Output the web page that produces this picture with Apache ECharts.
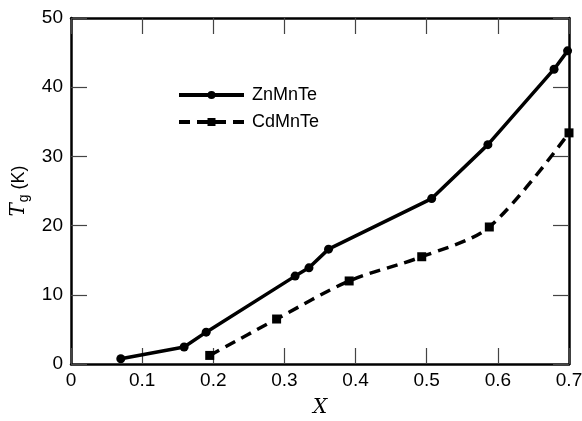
<!DOCTYPE html>
<html><head><meta charset="utf-8">
<script src="https://cdn.jsdelivr.net/npm/echarts@6/dist/echarts.min.js"></script>
<style>html,body{margin:0;padding:0;background:#fff}#c{width:582px;height:421px}</style>
</head><body><div id="c"></div>
<script>
const znX = [0.070, 0.159, 0.190, 0.315, 0.3345, 0.362, 0.507, 0.586, 0.679, 0.698];
const znY = [0.76, 2.45, 4.6, 12.7, 13.9, 16.6, 23.9, 31.7, 42.6, 45.25];
const cdX = [0.195, 0.289, 0.391, 0.493, 0.588, 0.700];
const cdY = [1.24, 6.5, 12.0, 15.5, 19.8, 33.4];
const xTicks = [0, 0.1, 0.2, 0.3, 0.4, 0.5, 0.6, 0.7];
const yTicks = [0, 10, 20, 30, 40, 50];

const font = '"Liberation Sans", Arial, sans-serif';
const chart = echarts.init(document.getElementById('c'));
const axisLine = {show: true, onZero: false, lineStyle: {color: '#000', width: 2.5}};
const tickStyle = {show: true, inside: true, length: 16, lineStyle: {color: '#444', width: 1.2}};
const labelFmt = v => { const r = Math.round(v*10)/10; return r === 0 ? '0' : r.toString(); };
chart.setOption({
  animation: false,
  grid: {left: 71, right: 13, top: 18, bottom: 57, containLabel: false, outerBoundsMode: 'none'},
  legend: {
    left: 172, top: 81, orient: 'vertical', itemWidth: 65, itemHeight: 10, itemGap: 9,
    textStyle: {fontFamily: font, fontSize: 18, color: '#000', padding: [0, 0, 0, 3]},
    lineStyle: {width: 4},
    data: ['ZnMnTe', 'CdMnTe']
  },
  xAxis: [{
    type: 'value', min: 0, max: 0.7, interval: 0.1, position: 'bottom',
    axisLine: axisLine, axisTick: tickStyle, splitLine: {show: false},
    axisLabel: {fontFamily: font, fontSize: 19, color: '#000', margin: 7, formatter: labelFmt},
    name: 'X', nameLocation: 'middle', nameGap: 34,
    nameTextStyle: {fontFamily: '"DejaVu Serif", serif', fontStyle: 'italic', fontSize: 20, color: '#000'}
  }, {
    type: 'value', min: 0, max: 0.7, interval: 0.1, position: 'top',
    axisLine: axisLine, axisTick: tickStyle, splitLine: {show: false}, axisLabel: {show: false}
  }],
  yAxis: [{
    type: 'value', min: 0, max: 50, interval: 10, position: 'left',
    axisLine: axisLine, axisTick: tickStyle, splitLine: {show: false},
    axisLabel: {fontFamily: font, fontSize: 19, color: '#000', margin: 8},
    name: '{t|T}{g|g}{k| (K)}', nameLocation: 'middle', nameGap: 34, nameRotate: 90,
    nameTextStyle: {
      color: '#000',
      rich: {
        t: {fontFamily: '"DejaVu Serif", serif', fontStyle: 'italic', fontSize: 20, color: '#000'},
        g: {fontFamily: font, fontSize: 14, color: '#000', verticalAlign: 'bottom', padding: [10, 0, 0, 1]},
        k: {fontFamily: font, fontSize: 18, color: '#000'}
      }
    }
  }, {
    type: 'value', min: 0, max: 50, interval: 10, position: 'right',
    axisLine: axisLine, axisTick: tickStyle, splitLine: {show: false}, axisLabel: {show: false}
  }],
  series: [{
    name: 'ZnMnTe', type: 'line', smooth: false,
    data: znX.map((x, i) => [x, znY[i]]),
    symbol: 'circle', symbolSize: 9,
    lineStyle: {color: '#000', width: 3.5},
    itemStyle: {color: '#000'}
  }, {
    name: 'CdMnTe', type: 'line', smooth: 0.3,
    data: cdX.map((x, i) => [x, cdY[i]]),
    symbol: 'rect', symbolSize: 9,
    lineStyle: {color: '#000', width: 3.5, type: [11, 7]},
    itemStyle: {color: '#000'}
  }]
});
</script></body></html>
